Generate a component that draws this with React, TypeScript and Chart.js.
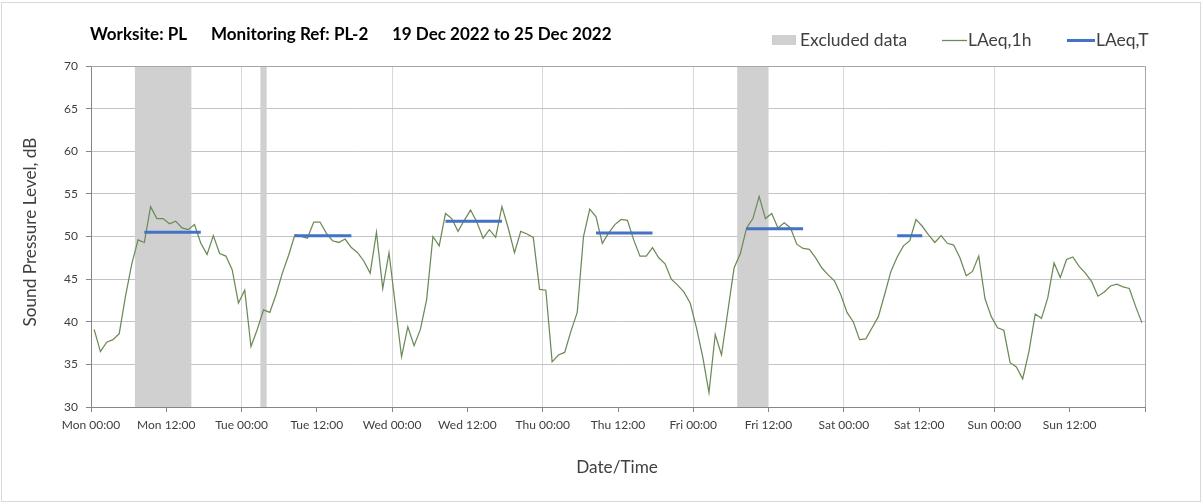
import React, { useEffect, useRef } from "react";
import { Chart, registerables } from "chart.js";

Chart.register(...registerables);

// Hourly LAeq,1h values, Mon 00:00 .. Sun 23:00 (plotted at mid-hour)
const laeq1h = [
  39.1, 36.5, 37.6, 37.9, 38.6, 43.0, 46.8, 49.6, 49.3, 53.5,
  52.1, 52.1, 51.5, 51.8, 51.0, 50.8, 51.4, 49.2, 47.9, 50.1,
  48.0, 47.7, 46.1, 42.2, 43.7, 37.1, 39.1, 41.4, 41.1, 43.2,
  45.7, 47.8, 50.2, 50.0, 49.8, 51.7, 51.7, 50.4, 49.5, 49.3,
  49.7, 48.7, 48.1, 47.1, 45.7, 50.5, 43.9, 48.1, 42.0, 35.9,
  39.4, 37.2, 39.1, 42.6, 50.0, 48.9, 52.7, 52.1, 50.6, 51.9,
  53.1, 51.7, 49.8, 50.8, 49.9, 53.5, 51.0, 48.1, 50.6, 50.3,
  49.9, 43.8, 43.7, 35.3, 36.1, 36.4, 38.9, 41.1, 50.0, 53.2,
  52.3, 49.2, 50.4, 51.4, 52.0, 51.9, 49.6, 47.7, 47.7, 48.7,
  47.5, 46.8, 45.0, 44.3, 43.5, 42.2, 39.3, 35.9, 31.7, 38.5,
  36.1, 41.2, 46.3, 48.0, 51.0, 52.1, 54.7, 52.1, 52.7, 51.0,
  51.6, 51.0, 49.1, 48.6, 48.5, 47.5, 46.3, 45.5, 44.8, 43.2,
  41.1, 40.0, 37.9, 38.0, 39.3, 40.6, 43.2, 45.9, 47.6, 48.9,
  49.5, 52.0, 51.2, 50.2, 49.3, 50.1, 49.2, 49.0, 47.5, 45.4,
  45.9, 47.7, 42.7, 40.6, 39.3, 39.0, 35.2, 34.7, 33.3, 36.5,
  40.9, 40.4, 42.8, 46.9, 45.2, 47.3, 47.6, 46.5, 45.7, 44.7,
  43.0, 43.5, 44.2, 44.4, 44.1, 43.9, 41.8, 39.9,
];

// LAeq,T periods (hour index start/end) and levels
const laeqTStart = [8, 32, 56, 80, 104, 128];
const laeqTEnd = [17, 41, 65, 89, 113, 132];
const laeqTValue = [50.5, 50.1, 51.8, 50.4, 50.9, 50.1];

// Excluded data periods (hours from Mon 00:00)
const excludedStart = [7, 27, 103];
const excludedEnd = [16, 28, 108];

const xTickLabels = [
  "Mon 00:00", "Mon 12:00", "Tue 00:00", "Tue 12:00", "Wed 00:00", "Wed 12:00",
  "Thu 00:00", "Thu 12:00", "Fri 00:00", "Fri 12:00", "Sat 00:00", "Sat 12:00",
  "Sun 00:00", "Sun 12:00", "",
];

const titleParts = ["Worksite: PL", "Monitoring Ref: PL-2", "19 Dec 2022 to 25 Dec 2022"];
const legendLabels = ["Excluded data", "LAeq,1h", "LAeq,T"];
const yTitle = "Sound Pressure Level, dB";
const xTitle = "Date/Time";

const FONT = "Lato, 'Open Sans', sans-serif";
const GREEN = "#6c8a58";
const BLUE = "#4472c4";
const BAND = "#d0d0d0";
const TEXT = "#404040";

// font size that makes the text span the given width
function fitSize(ctx: CanvasRenderingContext2D, text: string, width: number, weight: string) {
  ctx.font = `${weight} 20px ${FONT}`;
  const w = ctx.measureText(text).width;
  return (20 * width) / w;
}

const decorPlugin = {
  id: "decor",
  beforeDatasetsDraw(chart: any) {
    const { ctx, chartArea, scales } = chart;
    const x = scales.x;
    ctx.save();
    ctx.fillStyle = BAND;
    for (let k = 0; k < excludedStart.length; k++) {
      const x0 = x.getPixelForValue(excludedStart[k]);
      const x1 = x.getPixelForValue(excludedEnd[k]);
      ctx.fillRect(x0, chartArea.top, x1 - x0, chartArea.bottom - chartArea.top);
    }
    ctx.restore();
  },
  afterDraw(chart: any) {
    const { ctx, chartArea } = chart;
    ctx.save();
    // outer frame
    ctx.strokeStyle = "#d9d9d9";
    ctx.lineWidth = 1;
    ctx.strokeRect(1.5, 2.5, 1199, 499);
    // plot area top/right border
    ctx.strokeStyle = "#a6a6a6";
    ctx.beginPath();
    ctx.moveTo(chartArea.left, Math.round(chartArea.top) + 0.5);
    ctx.lineTo(Math.round(chartArea.right) + 0.5, Math.round(chartArea.top) + 0.5);
    ctx.lineTo(Math.round(chartArea.right) + 0.5, chartArea.bottom);
    ctx.stroke();

    // title (three parts)
    ctx.fillStyle = "#000";
    ctx.textBaseline = "alphabetic";
    ctx.textAlign = "left";
    const titleSpan = [[90, 193], [211, 369], [392, 598]];
    let ts = 0;
    titleParts.forEach((t, i) => { ts += fitSize(ctx, t, titleSpan[i][1] - titleSpan[i][0], "bold"); });
    ts /= titleParts.length;
    ctx.font = `bold ${ts.toFixed(2)}px ${FONT}`;
    titleParts.forEach((t, i) => ctx.fillText(t, titleSpan[i][0], 40));

    // legend
    const legSpan = [[800, 906], [968, 1033], [1096, 1148]];
    let ls = 0;
    legendLabels.forEach((t, i) => { ls += fitSize(ctx, t, legSpan[i][1] - legSpan[i][0], "normal"); });
    ls /= legendLabels.length;
    ctx.font = `${ls.toFixed(2)}px ${FONT}`;
    ctx.fillStyle = BAND;
    ctx.fillRect(772, 35, 24, 10);
    ctx.fillStyle = TEXT;
    ctx.fillText(legendLabels[0], legSpan[0][0], 46);
    ctx.strokeStyle = GREEN;
    ctx.lineWidth = 1.3;
    ctx.beginPath();
    ctx.moveTo(942, 40.5);
    ctx.lineTo(967, 40.5);
    ctx.stroke();
    ctx.fillText(legendLabels[1], legSpan[1][0], 46);
    ctx.strokeStyle = BLUE;
    ctx.lineWidth = 3;
    ctx.beginPath();
    ctx.moveTo(1067, 40.5);
    ctx.lineTo(1095, 40.5);
    ctx.stroke();
    ctx.fillText(legendLabels[2], legSpan[2][0], 46);

    // axis titles
    ctx.textAlign = "center";
    ctx.textBaseline = "middle";
    const ys = fitSize(ctx, yTitle, 189, "normal");
    ctx.font = `${ys.toFixed(2)}px ${FONT}`;
    ctx.fillText(xTitle, 617, 467);
    ctx.translate(30, 232);
    ctx.rotate(-Math.PI / 2);
    ctx.fillText(yTitle, 0, 0);
    ctx.restore();
  },
};

export default function App() {
  const ref = useRef<HTMLCanvasElement | null>(null);

  useEffect(() => {
    if (!ref.current) return;
    const lineData = laeq1h.map((v, i) => ({ x: i + 0.5, y: v }));
    const tData: any[] = [];
    laeqTStart.forEach((s, k) => {
      tData.push({ x: s + 0.5, y: laeqTValue[k] });
      tData.push({ x: laeqTEnd[k] + 0.5, y: laeqTValue[k] });
      tData.push({ x: laeqTEnd[k] + 1, y: null });
    });

    const chart = new Chart(ref.current, {
      type: "line",
      data: {
        datasets: [
          {
            label: legendLabels[2],
            data: tData,
            borderColor: BLUE,
            borderWidth: 3,
            pointRadius: 0,
            spanGaps: false,
            borderCapStyle: "butt",
          },
          {
            label: legendLabels[1],
            data: lineData,
            borderColor: GREEN,
            borderWidth: 1.25,
            pointRadius: 0,
            tension: 0,
          },
        ],
      },
      options: {
        responsive: false,
        animation: false,
        events: [],
        layout: { padding: { left: 0, top: 66, right: 58, bottom: 57 } },
        plugins: { legend: { display: false }, title: { display: false }, tooltip: { enabled: false } },
        scales: {
          x: {
            type: "linear",
            min: 0,
            max: 168,
            afterFit: (s: any) => { s.height = 40; },
            ticks: {
              stepSize: 12,
              autoSkip: false,
              maxRotation: 0,
              padding: 6,
              color: TEXT,
              font: { family: FONT, size: 12 },
              callback: (v: any) => xTickLabels[Math.round(Number(v) / 12)] ?? "",
            },
            grid: {
              color: (c: any) => (c.tick && c.tick.value % 24 === 0 ? "#d9d9d9" : "rgba(0,0,0,0)"),
              tickColor: "#868686",
              tickLength: 5,
              lineWidth: 1,
            },
            border: { color: "#868686", z: 1 },
          },
          y: {
            min: 30,
            max: 70,
            afterFit: (s: any) => { s.width = 91; },
            ticks: {
              stepSize: 5,
              padding: 8,
              color: TEXT,
              font: { family: FONT, size: 12 },
            },
            grid: {
              color: "#c4c4c4",
              tickColor: "#868686",
              tickLength: 5,
            },
            border: { color: "#868686", z: 1 },
          },
        },
      },
      plugins: [decorPlugin],
    } as any);
    return () => chart.destroy();
  }, []);

  return (
    <div style={{ position: "absolute", left: 0, top: 0, width: 1203, height: 504, background: "#fff" }}>
      <canvas ref={ref} width={1203} height={504} style={{ display: "block" }} />
    </div>
  );
}
